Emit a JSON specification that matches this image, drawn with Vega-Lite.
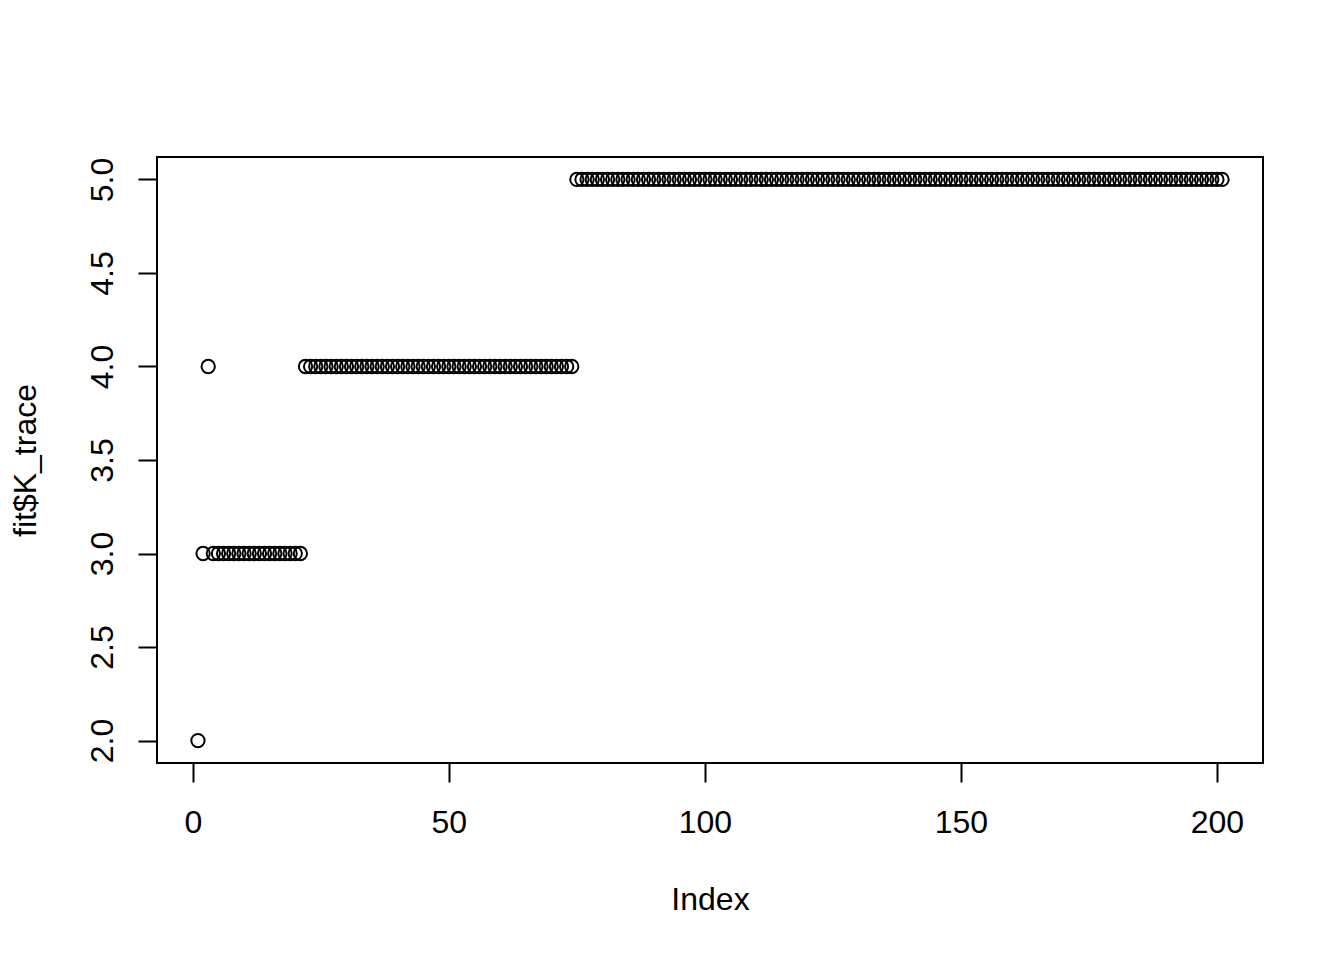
{
  "$schema": "https://vega.github.io/schema/vega-lite/v6.json",
  "autosize": "none",
  "width": 1106,
  "height": 606,
  "padding": {"left": 157, "top": 157, "right": 81, "bottom": 197},
  "background": "white",
  "view": {"stroke": "black", "strokeWidth": 2, "fill": null},
  "config": {
    "font": "Liberation Sans",
    "axis": {"labelFont": "Liberation Sans", "titleFont": "Liberation Sans", "labelColor": "black", "titleColor": "black", "tickColor": "black", "labelFontSize": 32, "titleFontSize": 32, "titleFontWeight": "normal", "grid": false, "domain": false, "tickSize": 19, "tickWidth": 2}
  },
  "data": {"values": [
    {"Index":1,"K":2},{"Index":2,"K":3},{"Index":3,"K":4},
    {"Index":4,"K":3},{"Index":5,"K":3},{"Index":6,"K":3},{"Index":7,"K":3},{"Index":8,"K":3},{"Index":9,"K":3},{"Index":10,"K":3},{"Index":11,"K":3},{"Index":12,"K":3},{"Index":13,"K":3},{"Index":14,"K":3},{"Index":15,"K":3},{"Index":16,"K":3},{"Index":17,"K":3},{"Index":18,"K":3},{"Index":19,"K":3},{"Index":20,"K":3},{"Index":21,"K":3},
    {"Index":22,"K":4},{"Index":23,"K":4},{"Index":24,"K":4},{"Index":25,"K":4},{"Index":26,"K":4},{"Index":27,"K":4},{"Index":28,"K":4},{"Index":29,"K":4},{"Index":30,"K":4},{"Index":31,"K":4},{"Index":32,"K":4},{"Index":33,"K":4},{"Index":34,"K":4},{"Index":35,"K":4},{"Index":36,"K":4},{"Index":37,"K":4},{"Index":38,"K":4},{"Index":39,"K":4},{"Index":40,"K":4},{"Index":41,"K":4},{"Index":42,"K":4},{"Index":43,"K":4},{"Index":44,"K":4},{"Index":45,"K":4},{"Index":46,"K":4},{"Index":47,"K":4},{"Index":48,"K":4},{"Index":49,"K":4},{"Index":50,"K":4},{"Index":51,"K":4},{"Index":52,"K":4},{"Index":53,"K":4},{"Index":54,"K":4},{"Index":55,"K":4},{"Index":56,"K":4},{"Index":57,"K":4},{"Index":58,"K":4},{"Index":59,"K":4},{"Index":60,"K":4},{"Index":61,"K":4},{"Index":62,"K":4},{"Index":63,"K":4},{"Index":64,"K":4},{"Index":65,"K":4},{"Index":66,"K":4},{"Index":67,"K":4},{"Index":68,"K":4},{"Index":69,"K":4},{"Index":70,"K":4},{"Index":71,"K":4},{"Index":72,"K":4},{"Index":73,"K":4},{"Index":74,"K":4},
    {"Index":75,"K":5},{"Index":76,"K":5},{"Index":77,"K":5},{"Index":78,"K":5},{"Index":79,"K":5},{"Index":80,"K":5},{"Index":81,"K":5},{"Index":82,"K":5},{"Index":83,"K":5},{"Index":84,"K":5},{"Index":85,"K":5},{"Index":86,"K":5},{"Index":87,"K":5},{"Index":88,"K":5},{"Index":89,"K":5},{"Index":90,"K":5},{"Index":91,"K":5},{"Index":92,"K":5},{"Index":93,"K":5},{"Index":94,"K":5},{"Index":95,"K":5},{"Index":96,"K":5},{"Index":97,"K":5},{"Index":98,"K":5},{"Index":99,"K":5},{"Index":100,"K":5},
    {"Index":101,"K":5},{"Index":102,"K":5},{"Index":103,"K":5},{"Index":104,"K":5},{"Index":105,"K":5},{"Index":106,"K":5},{"Index":107,"K":5},{"Index":108,"K":5},{"Index":109,"K":5},{"Index":110,"K":5},{"Index":111,"K":5},{"Index":112,"K":5},{"Index":113,"K":5},{"Index":114,"K":5},{"Index":115,"K":5},{"Index":116,"K":5},{"Index":117,"K":5},{"Index":118,"K":5},{"Index":119,"K":5},{"Index":120,"K":5},{"Index":121,"K":5},{"Index":122,"K":5},{"Index":123,"K":5},{"Index":124,"K":5},{"Index":125,"K":5},{"Index":126,"K":5},{"Index":127,"K":5},{"Index":128,"K":5},{"Index":129,"K":5},{"Index":130,"K":5},{"Index":131,"K":5},{"Index":132,"K":5},{"Index":133,"K":5},{"Index":134,"K":5},{"Index":135,"K":5},{"Index":136,"K":5},{"Index":137,"K":5},{"Index":138,"K":5},{"Index":139,"K":5},{"Index":140,"K":5},{"Index":141,"K":5},{"Index":142,"K":5},{"Index":143,"K":5},{"Index":144,"K":5},{"Index":145,"K":5},{"Index":146,"K":5},{"Index":147,"K":5},{"Index":148,"K":5},{"Index":149,"K":5},{"Index":150,"K":5},
    {"Index":151,"K":5},{"Index":152,"K":5},{"Index":153,"K":5},{"Index":154,"K":5},{"Index":155,"K":5},{"Index":156,"K":5},{"Index":157,"K":5},{"Index":158,"K":5},{"Index":159,"K":5},{"Index":160,"K":5},{"Index":161,"K":5},{"Index":162,"K":5},{"Index":163,"K":5},{"Index":164,"K":5},{"Index":165,"K":5},{"Index":166,"K":5},{"Index":167,"K":5},{"Index":168,"K":5},{"Index":169,"K":5},{"Index":170,"K":5},{"Index":171,"K":5},{"Index":172,"K":5},{"Index":173,"K":5},{"Index":174,"K":5},{"Index":175,"K":5},{"Index":176,"K":5},{"Index":177,"K":5},{"Index":178,"K":5},{"Index":179,"K":5},{"Index":180,"K":5},{"Index":181,"K":5},{"Index":182,"K":5},{"Index":183,"K":5},{"Index":184,"K":5},{"Index":185,"K":5},{"Index":186,"K":5},{"Index":187,"K":5},{"Index":188,"K":5},{"Index":189,"K":5},{"Index":190,"K":5},{"Index":191,"K":5},{"Index":192,"K":5},{"Index":193,"K":5},{"Index":194,"K":5},{"Index":195,"K":5},{"Index":196,"K":5},{"Index":197,"K":5},{"Index":198,"K":5},{"Index":199,"K":5},{"Index":200,"K":5},{"Index":201,"K":5}
  ]},
  "mark": {"type": "point", "shape": "circle", "filled": false, "stroke": "black", "strokeWidth": 2, "size": 177, "opacity": 1},
  "encoding": {
    "x": {
      "field": "Index", "type": "quantitative",
      "scale": {"domain": [-7, 209], "nice": false, "zero": false},
      "axis": {"title": "Index", "values": [0, 50, 100, 150, 200], "format": "d", "labelBaseline": "alphabetic", "labelPadding": 50, "titleBaseline": "alphabetic", "titleY": 146, "titleX": 553, "titleAlign": "center", "labelFlush": false, "labelOverlap": false}
    },
    "y": {
      "field": "K", "type": "quantitative",
      "scale": {"domain": [1.88, 5.12], "nice": false, "zero": false},
      "axis": {"title": "fit$K_trace", "values": [2, 2.5, 3, 3.5, 4, 4.5, 5], "format": ".1f", "labelAngle": -90, "labelAlign": "center", "labelBaseline": "alphabetic", "labelPadding": 26, "titleAngle": -90, "titleAlign": "center", "titleBaseline": "alphabetic", "titleX": -122, "titleY": 303, "labelFlush": false, "labelOverlap": false}
    }
  }
}
